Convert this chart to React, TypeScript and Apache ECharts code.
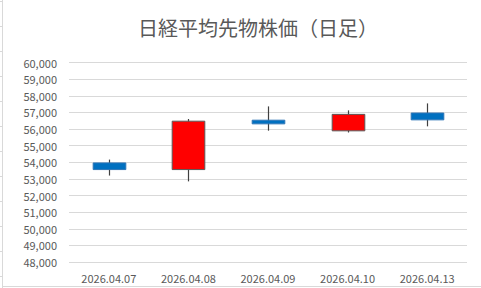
import React, { useEffect, useRef } from "react";
import * as echarts from "echarts";

const categories = ["2026.04.07", "2026.04.08", "2026.04.09", "2026.04.10", "2026.04.13"];
const opens = [53960, 53560, 56530, 55890, 56960];
const closes = [53560, 56470, 56310, 56880, 56550];
const lows = [53200, 52850, 55900, 55790, 56160];
const highs = [54160, 56600, 57360, 57120, 57540];
const yMin = 48000;
const yMax = 60000;
const yInterval = 1000;
const title = "日経平均先物株価（日足）";

export default function App() {
  const ref = useRef<HTMLDivElement>(null);
  useEffect(() => {
    if (!ref.current) return;
    const chart = echarts.init(ref.current, undefined, { renderer: "svg" });
    const data = categories.map((c, i) => [i, opens[i], closes[i], lows[i], highs[i]]);
    const sheetMarks: any[] = [];
    for (let k = 0; k < 12; k++) {
      const y = 1.5 + 25 * k;
      sheetMarks.push({
        type: "line",
        shape: { x1: 0, y1: y, x2: 2, y2: y },
        style: { stroke: "#d9d9d9", lineWidth: 1 },
        silent: true,
      });
    }
    chart.setOption({
      animation: false,
      backgroundColor: "#ffffff",
      title: {
        text: title,
        left: 253,
        textAlign: "center",
        top: 12,
        textStyle: {
          fontFamily: "Noto Sans CJK JP",
          fontSize: 20,
          fontWeight: "normal",
          color: "#595959",
        },
      },
      graphic: [
        {
          type: "line",
          shape: { x1: 2.5, y1: 0, x2: 2.5, y2: 288 },
          style: { stroke: "#d9d9d9", lineWidth: 1 },
          silent: true,
        },
        {
          type: "line",
          shape: { x1: 2, y1: 286.5, x2: 481, y2: 286.5 },
          style: { stroke: "#d9d9d9", lineWidth: 1 },
          silent: true,
        },
        ...sheetMarks,
      ],
      grid: { left: 69, right: 14, top: 62.5, bottom: 26 },
      xAxis: {
        type: "category",
        data: categories,
        axisLine: { show: false },
        axisTick: { show: false },
        axisLabel: {
          margin: 10,
          fontFamily: "Noto Sans CJK JP",
          fontSize: 11,
          color: "#595959",
        },
      },
      yAxis: {
        type: "value",
        min: yMin,
        max: yMax,
        interval: yInterval,
        axisLine: { show: false },
        axisTick: { show: false },
        splitLine: { lineStyle: { color: "#d9d9d9", width: 1 } },
        axisLabel: {
          margin: 12,
          fontFamily: "Noto Sans CJK JP",
          fontSize: 11,
          color: "#595959",
          formatter: (v: number) => v.toLocaleString("en-US"),
        },
      },
      series: [
        {
          type: "custom",
          data,
          encode: { x: 0, y: [1, 2, 3, 4] },
          renderItem: (params: any, api: any) => {
            const idx = api.value(0);
            const o = api.value(1);
            const c = api.value(2);
            const lo = api.value(3);
            const hi = api.value(4);
            const pO = api.coord([idx, o]);
            const pC = api.coord([idx, c]);
            const pL = api.coord([idx, lo]);
            const pH = api.coord([idx, hi]);
            const bw = api.size([1, 0])[0] * 0.41;
            const up = c >= o;
            const x = Math.round(pO[0]) + 0.5;
            const top = Math.min(pO[1], pC[1]);
            const h = Math.abs(pO[1] - pC[1]);
            return {
              type: "group",
              children: [
                {
                  type: "line",
                  shape: { x1: x, y1: pH[1], x2: x, y2: pL[1] },
                  style: { stroke: "#404040", lineWidth: 1.2 },
                },
                {
                  type: "rect",
                  shape: { x: x - bw / 2, y: top, width: bw, height: h },
                  style: {
                    fill: up ? "#ff0000" : "#0070c0",
                    stroke: up ? "#595959" : "#2e75b6",
                    lineWidth: 1,
                  },
                },
              ],
            };
          },
        },
      ],
    });
    return () => chart.dispose();
  }, []);
  return (
    <div
      ref={ref}
      style={{ position: "fixed", left: 0, top: 0, width: 481, height: 288 }}
    />
  );
}
